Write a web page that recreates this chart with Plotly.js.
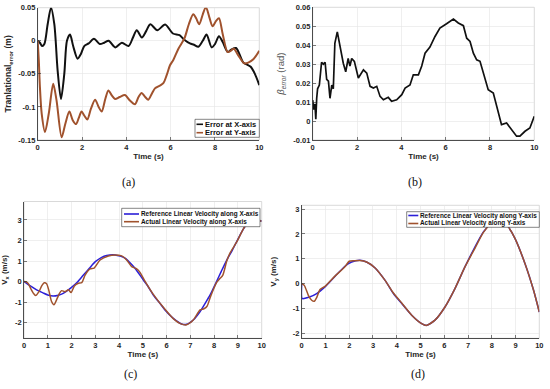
<!DOCTYPE html>
<html><head><meta charset="utf-8">
<script src="https://cdn.plot.ly/plotly-3.0.1.min.js"></script>
<style>html,body{margin:0;padding:0;background:#fff}#chart{width:550px;height:389px}</style>
</head><body><div id="chart"></div>
<script>
// ---------- (a) translational error ----------
const tErrX = [0,0.1,0.2,0.3,0.45,0.6,0.75,0.9,1.05,1.2,1.32,1.46,1.6,1.8,1.95,2.1,2.3,2.54,2.8,3.0,3.2,3.5,3.8,4.1,4.3,4.47,4.7,4.9,5.08,5.4,5.75,6.1,6.4,6.6,6.87,7.05,7.25,7.45,7.62,7.85,8.0,8.18,8.35,8.58,8.75,8.95,9.1,9.28,9.45,9.6,9.8,10];
const errX = [0,-0.003,-0.008,-0.005,0.025,0.05,0.025,-0.045,-0.088,-0.05,0.0,0.0095,-0.008,-0.027,-0.02,-0.008,-0.004,0.003,-0.005,-0.003,0.0,-0.01,-0.003,-0.008,0.005,0.016,0.005,0.015,0.025,0.016,0.0245,0.011,0.0085,0.002,-0.004,-0.006,-0.009,0.0,0.0095,-0.01,-0.005,0.007,-0.002,-0.017,-0.013,-0.011,-0.02,-0.033,-0.036,-0.039,-0.05,-0.067];
const tErrY = [0,0.05,0.1,0.18,0.33,0.5,0.7,0.85,1.08,1.25,1.43,1.58,1.73,1.85,1.98,2.1,2.24,2.4,2.59,2.75,2.89,3.05,3.19,3.35,3.49,3.7,3.94,4.15,4.39,4.55,4.69,4.85,4.99,5.15,5.29,5.5,5.67,5.82,5.97,6.12,6.35,6.62,6.82,7.02,7.15,7.29,7.45,7.59,7.75,7.89,8.05,8.18,8.35,8.57,8.72,8.85,9.05,9.32,9.5,9.73,10];
const errY = [0,-0.03,-0.07,-0.11,-0.138,-0.11,-0.065,-0.09,-0.146,-0.125,-0.107,-0.12,-0.126,-0.117,-0.107,-0.113,-0.119,-0.103,-0.089,-0.1,-0.107,-0.088,-0.075,-0.083,-0.088,-0.085,-0.082,-0.09,-0.096,-0.085,-0.079,-0.085,-0.089,-0.08,-0.072,-0.068,-0.064,-0.052,-0.037,-0.029,-0.012,0.0035,0.025,0.04,0.034,0.025,0.04,0.051,0.035,0.022,0.03,0.034,0.01,-0.017,-0.015,-0.012,-0.022,-0.034,-0.033,-0.028,-0.015];
const legendA = ['Error at X-axis','Error at Y-axis'];
const errTickVals = [0.05,0,-0.05,-0.1,-0.15];
const errTickText = ['0.05','0','-0.05','-0.1','-0.15'];

// ---------- (b) beta error ----------
const tBeta = [0,0.05,0.1,0.14,0.18,0.22,0.3,0.4,0.48,0.56,0.63,0.71,0.78,0.86,0.93,1.0,1.11,1.19,1.28,1.38,1.49,1.6,1.68,1.76,1.88,2.06,2.29,2.44,2.59,2.74,2.89,3.04,3.19,3.41,3.56,3.79,4.02,4.17,4.39,4.54,4.77,4.92,5.07,5.29,5.52,5.74,6.04,6.35,6.57,6.8,6.95,7.1,7.25,7.4,7.55,7.77,7.92,8.15,8.3,8.52,8.75,8.98,9.2,9.35,9.58,9.8,10];
const betaErr = [0.011,0.006,0.009,0.001,0.012,0.017,0.019,0.031,0.030,0.031,0.022,0.021,0.012,0.019,0.017,0.041,0.047,0.042,0.0385,0.0305,0.026,0.033,0.029,0.033,0.0315,0.0227,0.027,0.0253,0.0183,0.0174,0.0183,0.013,0.0112,0.0125,0.0104,0.0112,0.0139,0.0174,0.019,0.0244,0.0244,0.029,0.0358,0.039,0.0446,0.049,0.0513,0.0538,0.0517,0.0503,0.0437,0.042,0.0358,0.0323,0.0315,0.0218,0.0165,0.0148,0.0077,-0.0019,-0.001,-0.0046,-0.008,-0.008,-0.0054,-0.0037,0.0025];
const betaTickVals = [0.06,0.05,0.04,0.03,0.02,0.01,0,-0.01];
const betaTickText = ['0.06','0.05','0.04','0.03','0.02','0.01','0','-0.01'];

// ---------- (c) Vx ----------
const tVxRef = [0,0.25,0.53,0.8,1.0,1.23,1.45,1.65,2.0,2.25,2.5,2.75,3.0,3.25,3.48,3.83,4.05,4.25,4.45,4.67,5.02,5.2,5.44,5.7,5.93,6.28,6.63,6.84,7.12,7.41,7.6,7.83,8.1,8.3,8.53,8.75,8.95,9.3,9.6,10];
const vxRef = [0,-0.2,-0.4,-0.55,-0.65,-0.7,-0.66,-0.57,-0.28,-0.02,0.32,0.65,0.97,1.17,1.27,1.3,1.24,1.14,0.93,0.65,0.08,-0.2,-0.65,-1.03,-1.38,-1.79,-2.06,-2.08,-1.87,-1.46,-1.1,-0.65,0,0.5,1.05,1.5,1.95,2.68,2.95,2.95];
const tVxAct = [0,0.1,0.18,0.3,0.39,0.49,0.63,0.75,0.85,0.95,1.05,1.16,1.26,1.37,1.48,1.58,1.72,1.87,1.98,2.12,2.29,2.43,2.57,2.78,2.95,3.2,3.55,3.83,4.11,4.32,4.53,4.74,4.88,5.05,5.44,5.93,6.28,6.63,6.84,7.12,7.41,7.57,7.7,7.85,8.1,8.25,8.36,8.53,8.67,8.95,9.3,9.6,10];
const vxAct = [0,-0.02,-0.1,-0.38,-0.56,-0.68,-0.49,-0.2,-0.06,-0.1,-0.45,-0.97,-1.13,-0.89,-0.6,-0.44,-0.49,-0.4,-0.53,-0.21,-0.08,-0.05,0.32,0.62,0.66,1.05,1.25,1.3,1.25,1.05,0.73,0.62,0.45,0.1,-0.62,-1.35,-1.8,-2.07,-2.1,-1.87,-1.38,-1.32,-1.2,-0.72,-0.05,0.16,0.3,1.0,1.4,1.93,2.7,2.95,2.95];
const legendC = ['Reference Linear Velocity along X-axis','Actual Linear Velocity along X-axis'];

// ---------- (d) Vy ----------
const tVyRef = [0,0.02,0.3,0.63,0.98,1.4,1.82,2.1,2.45,2.73,3.09,3.51,3.86,4.21,4.63,5.05,5.26,5.61,6.03,6.45,6.87,7.29,7.64,7.99,8.25,8.5,8.7,8.98,9.4,9.75,10];
const vyRef = [0,-0.6,-0.55,-0.4,-0.13,0.29,0.7,0.87,0.94,0.87,0.63,0.13,-0.4,-0.8,-1.27,-1.61,-1.68,-1.47,-0.94,-0.2,0.67,1.47,2.07,2.45,2.6,2.5,2.28,1.81,0.8,-0.24,-1.14];
const tVyAct = [0,0.11,0.28,0.42,0.53,0.63,0.77,0.98,1.4,1.82,2.0,2.2,2.45,2.73,3.09,3.51,3.86,4.21,4.63,5.05,5.26,5.61,6.03,6.45,6.87,7.29,7.64,7.99,8.25,8.5,8.7,8.98,9.4,9.75,10];
const vyAct = [0,-0.07,-0.47,-0.67,-0.71,-0.56,-0.24,-0.11,0.3,0.68,0.9,0.92,0.93,0.87,0.63,0.13,-0.38,-0.78,-1.27,-1.61,-1.68,-1.47,-0.94,-0.2,0.67,1.42,2.05,2.45,2.6,2.5,2.28,1.81,0.8,-0.24,-1.14];
const legendD = ['Reference Linear Velocity along Y-axis','Actual Linear Velocity along Y-axis'];

const timeTicks2 = [0,2,4,6,8,10];
const timeTicks1 = [0,1,2,3,4,5,6,7,8,9,10];
const velTickVals = [-2,-1,0,1,2,3];
const velTickText = ['-2','-1','0','1','2','3'];
const captions = ['(a)','(b)','(c)','(d)'];

// ---------- layout helpers ----------
const W = 550, H = 389;
const fx = p => p / W;
const fy = p => 1 - p / H;
const BLACK = '#111111', BROWN = '#a0522d', BLUE = '#2b1fd8';
const TXT = '#262626';
const FONT = 'Liberation Sans, Arial, sans-serif';

function axis(d0, d1, range, tickvals, ticktext, anchor, title, tfont, standoff) {
  const t = {text: title, font: Object.assign({family: FONT, size: 8, color: TXT, weight: 'bold'}, tfont || {})};
  if (standoff !== undefined) t.standoff = standoff;
  return {
    domain: [d0, d1], range: range, anchor: anchor,
    tickmode: 'array', tickvals: tickvals, ticktext: ticktext,
    showgrid: true, gridcolor: '#e4e4e4', gridwidth: 0.6,
    zeroline: false, showline: true, linecolor: TXT, linewidth: 0.8,
    ticks: 'inside', ticklen: 3, tickwidth: 0.6, tickcolor: TXT,
    tickfont: {family: FONT, size: 7.5, color: TXT, weight: 'bold'},
    title: t,
    automargin: false, fixedrange: true
  };
}

const data = [
  {x: tErrX, y: errX, xaxis: 'x', yaxis: 'y', name: legendA[0], mode: 'lines', line: {color: BLACK, width: 2, shape: 'spline', smoothing: 0.8}},
  {x: tErrY, y: errY, xaxis: 'x', yaxis: 'y', name: legendA[1], mode: 'lines', line: {color: BROWN, width: 2, shape: 'spline', smoothing: 0.8}},
  {x: tBeta, y: betaErr, xaxis: 'x2', yaxis: 'y2', name: 'beta error', mode: 'lines', line: {color: BLACK, width: 1.7}},
  {x: tVxRef, y: vxRef, xaxis: 'x3', yaxis: 'y3', name: legendC[0], mode: 'lines', line: {color: BLUE, width: 1.5, shape: 'spline', smoothing: 0.7}},
  {x: tVxAct, y: vxAct, xaxis: 'x3', yaxis: 'y3', name: legendC[1], mode: 'lines', line: {color: BROWN, width: 1.5, shape: 'spline', smoothing: 0.7}},
  {x: tVyRef, y: vyRef, xaxis: 'x4', yaxis: 'y4', name: legendD[0], mode: 'lines', line: {color: BLUE, width: 1.5, shape: 'spline', smoothing: 0.6}},
  {x: tVyAct, y: vyAct, xaxis: 'x4', yaxis: 'y4', name: legendD[1], mode: 'lines', line: {color: BROWN, width: 1.5, shape: 'spline', smoothing: 0.6}}
];

const layout = {
  width: W, height: H, margin: {l: 0, r: 0, t: 0, b: 0},
  paper_bgcolor: '#ffffff', plot_bgcolor: '#ffffff', showlegend: false,
  font: {family: FONT, color: TXT},
  xaxis:  axis(fx(37.7), fx(259.3), [0, 10], timeTicks2, timeTicks2.map(String), 'y', 'Time (s)', null, 2),
  yaxis:  axis(fy(140), fy(7.7), [-0.15, 0.05], errTickVals, errTickText, 'x', 'Tranlational<sub>error</sub> (m)', {size: 8.5}),
  xaxis2: axis(fx(312.7), fx(534.3), [0, 10], timeTicks2, timeTicks2.map(String), 'y2', 'Time (s)', null, 2),
  yaxis2: axis(fy(140), fy(7.3), [-0.01, 0.06], betaTickVals, betaTickText, 'x2', '<i>β</i><sub><i>error</i></sub> (rad)', {weight: 'normal', color: '#555555', size: 9.5}),
  xaxis3: axis(fx(24), fx(261.7), [0, 10], timeTicks1, timeTicks1.map(String), 'y3', 'Time (s)', null, 2),
  yaxis3: axis(fy(338.3), fy(201.5), [-2.76, 3.9], velTickVals, velTickText, 'x3', 'V<sub>x</sub> (m/s)'),
  xaxis4: axis(fx(301.7), fx(539.3), [0, 10], timeTicks1, timeTicks1.map(String), 'y4', 'Time (s)', null, 2),
  yaxis4: axis(fy(338.3), fy(205.3), [-2.2, 3.15], velTickVals, velTickText, 'x4', 'V<sub>y</sub> (m/s)'),
  shapes: [],
  annotations: []
};

// light box around each axes
[['x','y'],['x2','y2'],['x3','y3'],['x4','y4']].forEach(([xa, ya]) => {
  layout.shapes.push({type: 'rect', xref: xa + ' domain', yref: ya + ' domain', x0: 0, x1: 1, y0: 0, y1: 1,
    line: {color: '#cfcfcf', width: 0.8}, layer: 'below'});
});

// captions
const capPos = [[128, 182], [415, 182], [130, 374], [418, 374]];
captions.forEach((c, i) => {
  layout.annotations.push({text: c, xref: 'paper', yref: 'paper', x: fx(capPos[i][0]), y: fy(capPos[i][1]),
    xanchor: 'center', yanchor: 'middle', showarrow: false,
    font: {family: 'Liberation Serif, Times New Roman, serif', size: 12, color: '#111'}});
});

// legend boxes (drawn in paper space)
function legendBox(box, items, lineX, textX, fsize) {
  layout.shapes.push({type: 'rect', xref: 'paper', yref: 'paper', x0: fx(box[0]), x1: fx(box[1]), y0: fy(box[3]), y1: fy(box[2]),
    fillcolor: '#ffffff', line: {color: '#333333', width: 0.6}, layer: 'above'});
  items.forEach(it => {
    layout.shapes.push({type: 'line', xref: 'paper', yref: 'paper', x0: fx(lineX[0]), x1: fx(lineX[1]), y0: fy(it.y), y1: fy(it.y),
      line: {color: it.color, width: 1.6}, layer: 'above'});
    layout.annotations.push({text: it.name, xref: 'paper', yref: 'paper', x: fx(textX), y: fy(it.y),
      xanchor: 'left', yanchor: 'middle', showarrow: false, borderpad: 0,
      font: {family: FONT, size: fsize, color: '#111', weight: 'bold'}});
  });
}
legendBox([195, 259.3, 119.3, 137.3], [{y: 124.3, color: BLACK, name: legendA[0]}, {y: 132.7, color: BROWN, name: legendA[1]}], [196.5, 203], 203.5, 7.5);
legendBox([121.7, 260, 208.3, 226.7], [{y: 214, color: BLUE, name: legendC[0]}, {y: 221.7, color: BROWN, name: legendC[1]}], [124, 139], 139.5, 6.4);
legendBox([406.7, 539.3, 211.7, 227.3], [{y: 215.5, color: BLUE, name: legendD[0]}, {y: 223.5, color: BROWN, name: legendD[1]}], [408.3, 418.3], 418.8, 6.4);

Plotly.newPlot('chart', data, layout, {staticPlot: true, displayModeBar: false});
</script></body></html>
